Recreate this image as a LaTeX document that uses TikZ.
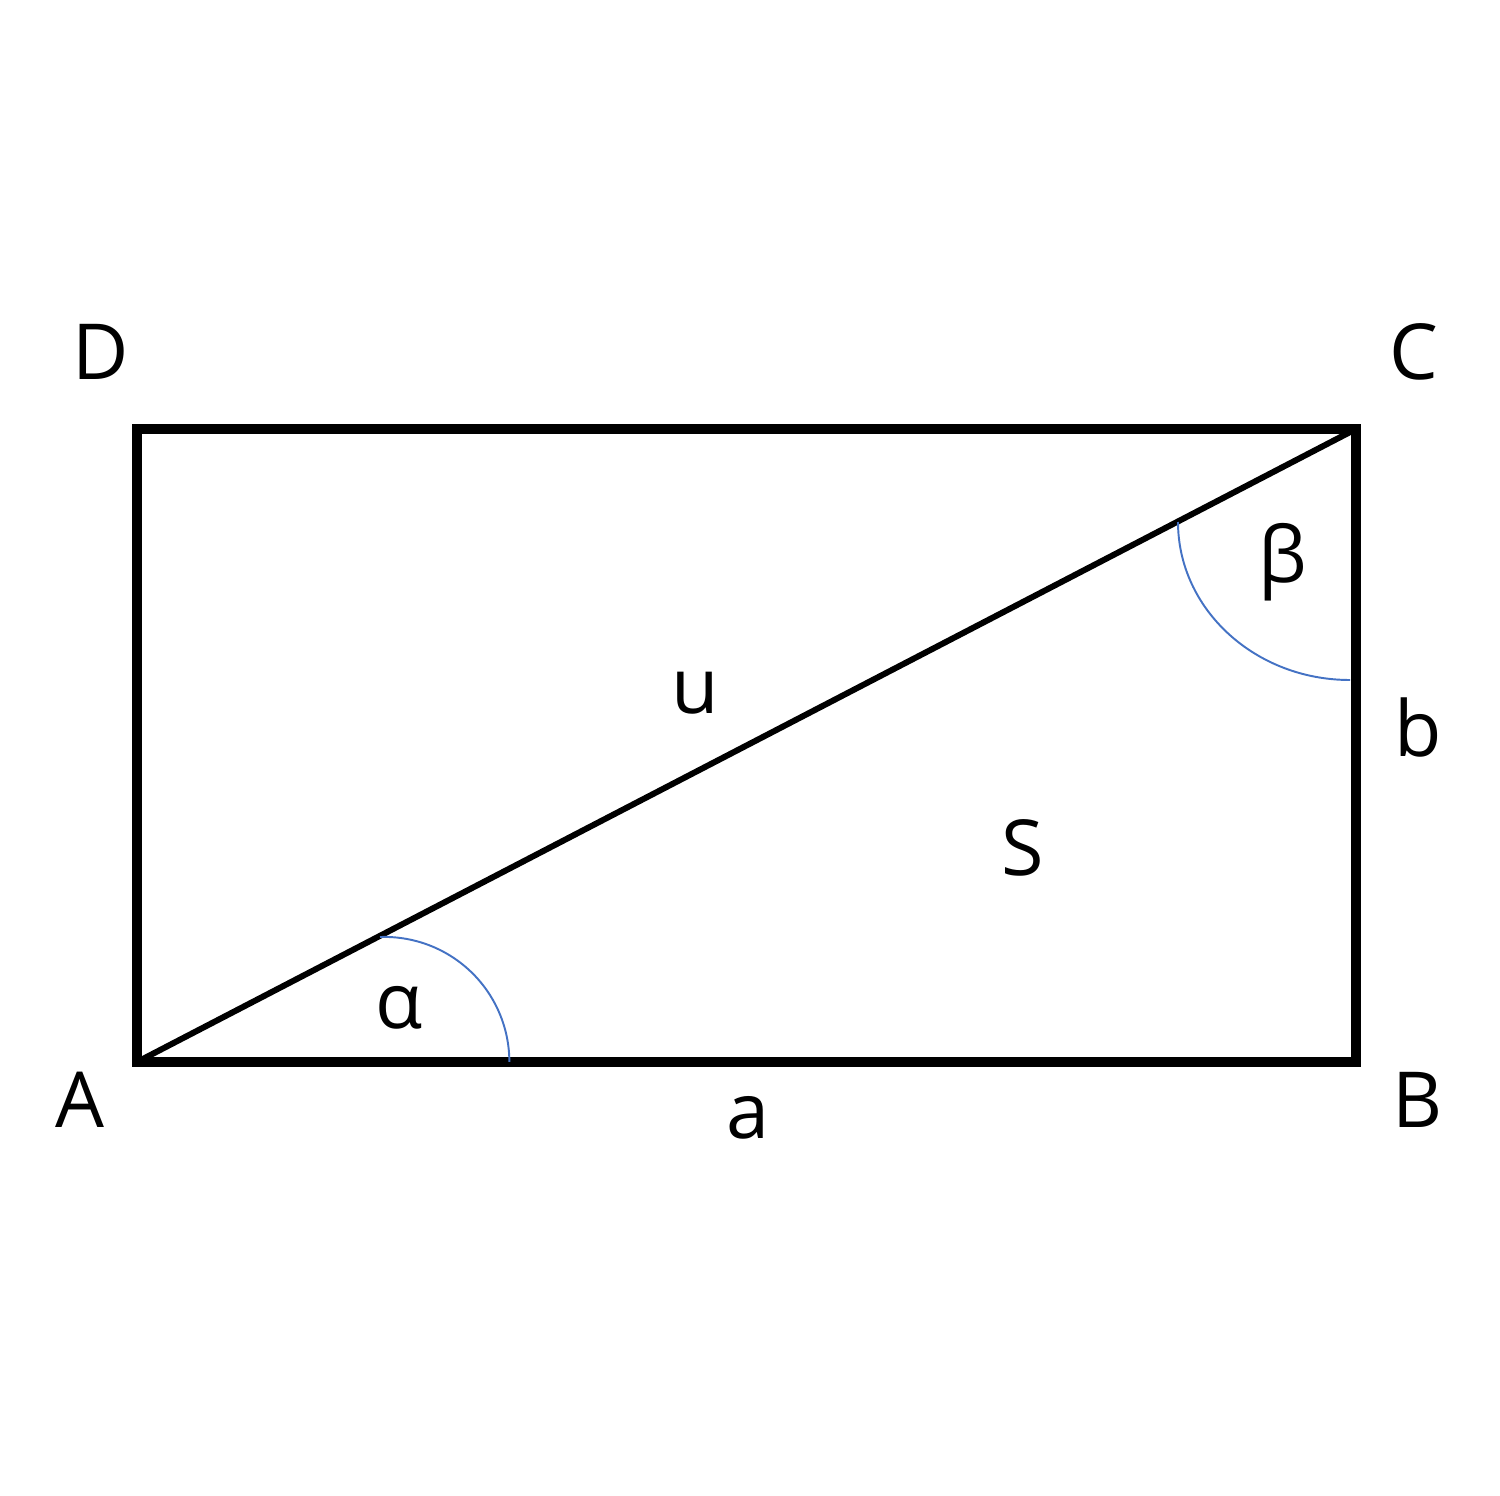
\documentclass[tikz,border=0pt]{standalone}
\usepackage{fontspec}
\setmainfont{Open Sans}
\definecolor{arcblue}{RGB}{68,114,196}
\begin{document}
\begin{tikzpicture}[x=0.02cm,y=-0.02cm,
  lbl/.style={font=\fontsize{44}{50}\selectfont, inner sep=0pt},
  side/.style={line width=5.7pt, line join=miter},
  diag/.style={line width=3.4pt},
  anglearc/.style={draw=arcblue, line width=1.1pt}]
\useasboundingbox (0,0) rectangle (1500,1496);
\fill[white] (0,0) rectangle (1500,1496);
\coordinate (A) at (137,1062);
\coordinate (B) at (1356,1062);
\coordinate (C) at (1356,429);
\coordinate (D) at (137,429);
\draw[diag] (A) -- (C);
\draw[side] (A) -- (B) -- (C) -- (D) -- cycle;
\draw[anglearc] (380,937) arc[start angle=92, end angle=0, x radius=125, y radius=-125];
\draw[anglearc] (1178,522) arc[start angle=180, end angle=270, x radius=172, y radius=-158];
\node[lbl] (lD) at (101,352) {D};
\node[lbl] (lC) at (1414,352) {C};
\node[lbl] (lA) at (80,1100) {A};
\node[lbl] (lB) at (1418,1100) {B};
\node[lbl] (la) at (748,1118) {a};
\node[lbl] (lb) at (1418,728) {b};
\node[lbl] (lu) at (695,693) {u};
\node[lbl] (lS) at (1023,848) {S};
\node[lbl] (lal) at (399,1008) {α};
\node[lbl] (lbe) at (1283,562) {β};
\end{tikzpicture}
\end{document}
